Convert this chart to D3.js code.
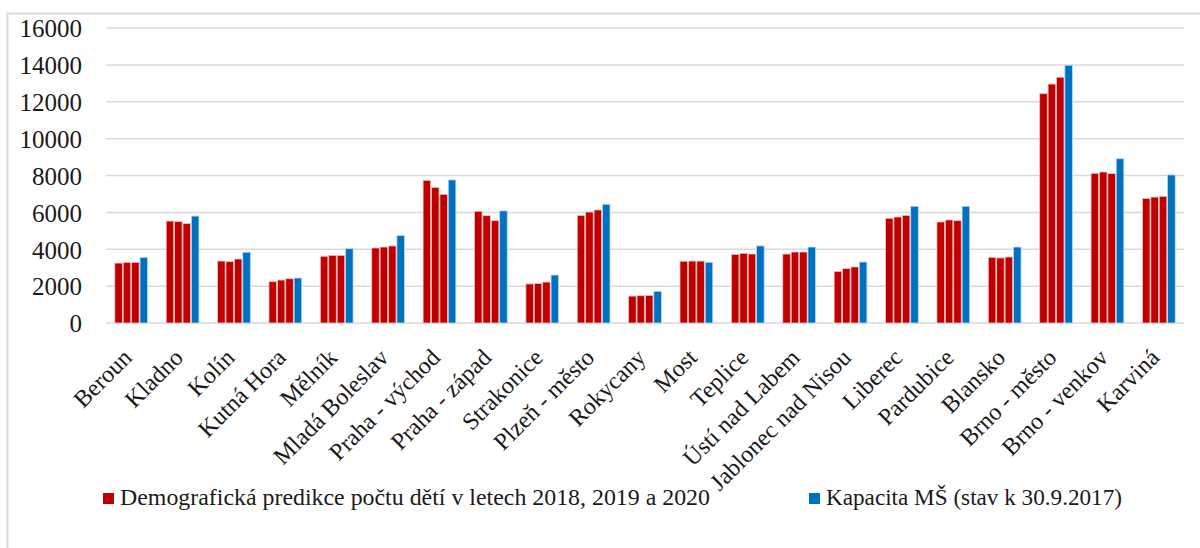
<!DOCTYPE html>
<html><head><meta charset="utf-8">
<script src="https://cdn.jsdelivr.net/npm/d3@7"></script>
<style>body{margin:0;background:#fff}svg{display:block}</style>
</head><body><svg id="c" width="1200" height="548"></svg>
<script>
const categories = ["Beroun","Kladno","Kolín","Kutná Hora","Mělník","Mladá Boleslav","Praha - východ","Praha - západ","Strakonice","Plzeň - město","Rokycany","Most","Teplice","Ústí nad Labem","Jablonec nad Nisou","Liberec","Pardubice","Blansko","Brno - město","Brno - venkov","Karviná"];
const pred2018 = [3250,5530,3360,2240,3620,4070,7740,6060,2120,5840,1460,3350,3720,3740,2800,5680,5480,3560,12440,8120,6760];
const pred2019 = [3290,5500,3330,2330,3670,4120,7360,5820,2150,6020,1480,3360,3780,3850,2950,5750,5590,3530,12960,8190,6830];
const pred2020 = [3290,5400,3470,2400,3670,4180,6980,5550,2220,6130,1500,3360,3740,3850,3040,5840,5550,3580,13330,8100,6870];
const capacity = [3560,5800,3840,2440,4030,4750,7760,6080,2600,6440,1720,3290,4180,4120,3310,6330,6330,4120,13980,8910,8030];
const yTicks = [0,2000,4000,6000,8000,10000,12000,14000,16000];
const legendLabels = ["Demografická predikce počtu dětí v letech 2018, 2019 a 2020","Kapacita MŠ (stav k 30.9.2017)"];
const colRed = "#C00000", colBlue = "#0070C0";

const svg = d3.select("#c");
const font = "'Liberation Serif', 'DejaVu Serif', serif";
svg.append("rect").attr("x",7.5).attr("y",13.5).attr("width",1220).attr("height",560)
  .attr("fill","#fff").attr("stroke","#d9d9d9").attr("stroke-width",2);

const x = d3.scaleBand().domain(categories).range([105.5,1184.5]).paddingInner(0.33).paddingOuter(0.165);
const y = d3.scaleLinear().domain([0,16000]).range([323,28]);
const series = [pred2018,pred2019,pred2020,capacity];
const xs = d3.scaleBand().domain(d3.range(4)).range([0,x.bandwidth()]).padding(0.1);

// gridlines
svg.append("g").selectAll("line").data(yTicks).join("line")
  .attr("x1",106).attr("x2",1184).attr("y1",d=>y(d)).attr("y2",d=>y(d))
  .attr("stroke","#d9d9d9").attr("stroke-width",1.5);

// y axis labels
const yAxis = d3.axisLeft(y).tickValues(yTicks).tickSize(0).tickPadding(0).tickFormat(d3.format("d"));
const ya = svg.append("g").attr("transform","translate(82,0)").call(yAxis);
ya.select(".domain").remove();
ya.selectAll("text").attr("font-family",font).attr("font-size",25).attr("fill","#1a1a1a").attr("dy","0.35em");

// bars
const g = svg.append("g");
categories.forEach((c,i)=>{
  series.forEach((s,k)=>{
    g.append("rect").attr("x",x(c)+xs(k)).attr("width",xs.bandwidth())
      .attr("y",y(s[i])).attr("height",y(0)-y(s[i]))
      .attr("fill",k<3?colRed:colBlue)
      .attr("stroke",k<3?"#f2c4c4":"#bcd9ef").attr("stroke-width",0.8);
  });
});

// x axis labels
const xAxis = d3.axisBottom(x).tickSize(0).tickPadding(0);
const xa = svg.append("g").attr("transform","translate(0,323)").call(xAxis);
xa.select(".domain").remove();
xa.selectAll("text").attr("font-family",font).attr("font-size",24).attr("fill","#1a1a1a")
  .attr("text-anchor","end").attr("dy",null).attr("y",null)
  .attr("transform","translate(2,36) rotate(-45)");

// legend
const leg = [{t:legendLabels[0],c:colRed,x:103,w:590},{t:legendLabels[1],c:colBlue,x:809,w:296}];
leg.forEach(l=>{
  svg.append("rect").attr("x",l.x).attr("y",493).attr("width",11).attr("height",11).attr("fill",l.c);
  svg.append("text").attr("x",l.x+17).attr("y",505).attr("font-family",font).attr("font-size",23)
    .attr("textLength",l.w).attr("lengthAdjust","spacingAndGlyphs")
    .attr("fill","#1a1a1a").text(l.t);
});
</script></body></html>
